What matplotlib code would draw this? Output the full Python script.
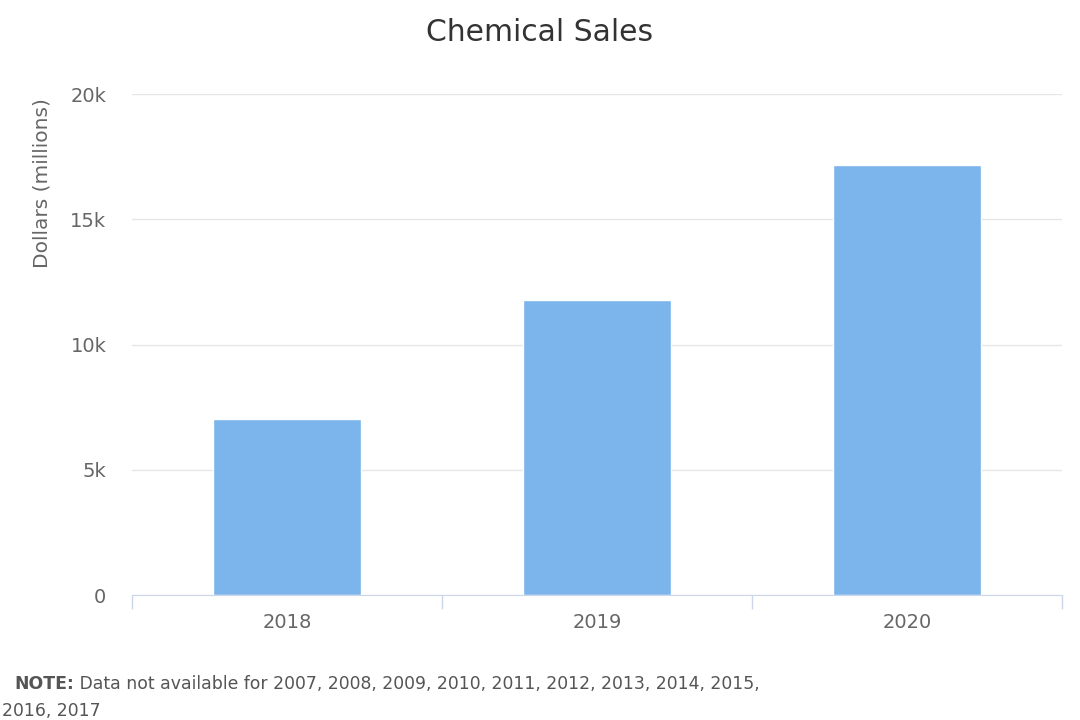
import matplotlib.pyplot as plt

years = ["2018", "2019", "2020"]
sales = [7030, 11780, 17170]
y_ticks = [0, 5000, 10000, 15000, 20000]
y_tick_labels = ["0", "5k", "10k", "15k", "20k"]
note_years = "2007, 2008, 2009, 2010, 2011, 2012, 2013, 2014, 2015,"
note_years_2 = "2016, 2017"

plt.rcParams["font.family"] = "DejaVu Sans"

fig = plt.figure(figsize=(10.8, 7.2), dpi=100)
ax = fig.add_axes([0.1222, 0.1736, 0.8611, 0.6958])

x = list(range(len(years)))
ax.bar(x, sales, width=0.48, color="#7cb5ec", edgecolor="white", linewidth=1, zorder=3)

ax.set_xlim(-0.5, len(years) - 0.5)
ax.set_ylim(0, 20000)
ax.set_yticks(y_ticks)
ax.set_yticklabels(y_tick_labels)
ax.set_xticks(x)
ax.set_xticklabels(years)
ax.set_xticks([i - 0.5 for i in range(len(years) + 1)], minor=True)

ax.grid(axis="y", color="#e6e6e6", linewidth=1, zorder=0)
for s in ["top", "right", "left"]:
    ax.spines[s].set_visible(False)
ax.spines["bottom"].set_color("#ccd6eb")
ax.spines["bottom"].set_zorder(4)

ax.tick_params(axis="y", length=0, pad=18.5, labelsize=14, labelcolor="#666666")
ax.tick_params(axis="x", which="major", length=0, pad=13, labelsize=14, labelcolor="#666666")
ax.tick_params(axis="x", which="minor", length=10, color="#ccd6eb", width=1)

ax.set_ylabel("Dollars (millions)", fontsize=14.5, color="#666666")
ax.yaxis.label.set_va("center")
ax.yaxis.set_label_coords(-0.0968, 0.822)

fig.text(0.5, 0.955, "Chemical Sales", ha="center", va="center", fontsize=21.5, color="#333333")

t = fig.text(0.013, 0.043, "NOTE:", fontsize=12.4, fontweight="bold", color="#555555", va="baseline")
ax.annotate(" Data not available for " + note_years, xy=(1, 0), xycoords=t,
            va="bottom", ha="left", fontsize=12.4, color="#555555", annotation_clip=False)
fig.text(0.002, 0.0056, note_years_2, fontsize=12.4, color="#555555", va="baseline")

fig.savefig("out.png", dpi=100, facecolor="white")
